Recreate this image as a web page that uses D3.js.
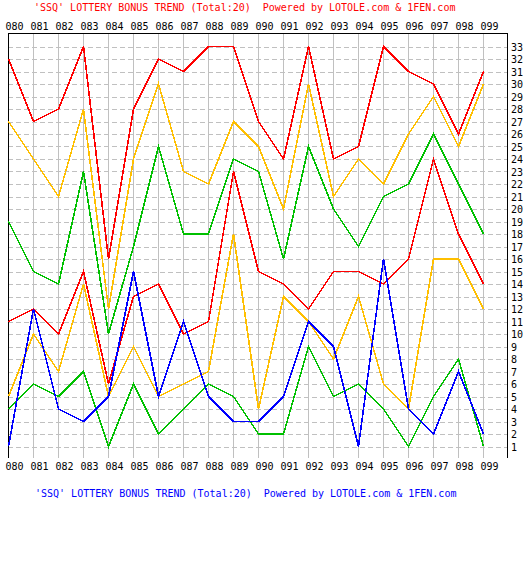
<!DOCTYPE html>
<html>
<head>
<meta charset="utf-8">
<script src="https://cdn.jsdelivr.net/npm/d3@7"></script>
<style>
  html, body { margin: 0; padding: 0; background: #fff; }
  svg { display: block; }
  text { font-family: "DejaVu Sans Mono", "Liberation Mono", monospace; font-size: 10px; }
</style>
</head>
<body>
<script>
const draws = ["080","081","082","083","084","085","086","087","088","089","090","091","092","093","094","095","096","097","098","099"];
const ball1 = [32,27,28,33,16,28,32,31,33,33,27,24,33,24,25,33,31,30,26,31];
const ball2 = [27,24,21,28,12,24,30,23,22,27,25,20,30,21,24,22,26,29,25,30];
const ball3 = [19,15,14,23,10,17,25,18,18,24,23,16,25,20,17,21,22,26,22,18];
const ball4 = [11,12,10,15,6,13,14,10,11,23,15,14,12,15,15,14,16,24,18,14];
const ball5 = [5,10,7,14,5,9,5,6,7,18,4,13,11,8,13,6,4,16,16,12];
const ball6 = [4,6,5,7,1,6,2,4,6,5,2,2,9,5,6,4,1,5,8,1];
const blueBall = [1,12,4,3,5,15,5,11,5,3,3,5,11,9,1,16,4,2,7,2];
const yTicks = d3.range(1, 34);
const titleText = "'SSQ' LOTTERY BONUS TREND (Total:20)  Powered by LOTOLE.com & 1FEN.com";

const series = [
  { values: ball1, color: "#ff0000" },
  { values: ball2, color: "#ffbf00" },
  { values: ball3, color: "#00c000" },
  { values: ball4, color: "#ff0000" },
  { values: ball5, color: "#ffbf00" },
  { values: ball6, color: "#00c000" },
  { values: blueBall, color: "#0000ff" }
];

const W = 523, H = 565;
const pLeft = 8, pRight = 507, pTop = 33, pBottom = 458;

const svg = d3.select("body").append("svg").attr("width", W).attr("height", H);
svg.append("rect").attr("width", W).attr("height", H).attr("fill", "#fff");

const x = d3.scalePoint().domain(draws).range([8, 483]);
const y = d3.scaleLinear().domain([0, 34]).range([459, 34]);

// titles
svg.append("text").attr("x", 34).attr("y", 11).attr("fill", "#ff0000")
  .attr("xml:space", "preserve").style("white-space", "pre").text(titleText);
svg.append("text").attr("x", 35).attr("y", 496.5).attr("fill", "#0000ff")
  .attr("xml:space", "preserve").style("white-space", "pre").text(titleText);

// horizontal dashed grid
svg.append("g").selectAll("line").data(yTicks).join("line")
  .attr("x1", pLeft).attr("x2", pRight)
  .attr("y1", d => Math.round(y(d)) + 0.5).attr("y2", d => Math.round(y(d)) + 0.5)
  .attr("stroke", "#c0c0c0").attr("stroke-width", 1)
  .attr("stroke-dasharray", "5,3").attr("shape-rendering", "crispEdges");

// vertical grid
svg.append("g").selectAll("line").data(draws).join("line")
  .attr("x1", d => x(d) + 0.5).attr("x2", d => x(d) + 0.5)
  .attr("y1", pTop).attr("y2", pBottom)
  .attr("stroke", "#c0c0c0").attr("stroke-width", 1).attr("shape-rendering", "crispEdges");

// frame
svg.append("path")
  .attr("d", `M${pLeft + 0.5},${pBottom} V${pTop + 0.5} H${pRight + 0.5} V${pBottom}`)
  .attr("fill", "none").attr("stroke", "#000").attr("stroke-width", 1.5)
  .attr("shape-rendering", "crispEdges");

// axes
const axTop = svg.append("g").attr("transform", `translate(0,${pTop})`)
  .call(d3.axisTop(x).tickSize(0).tickPadding(0));
axTop.select(".domain").remove();
axTop.selectAll("text").attr("text-anchor", "start").attr("x", -3).attr("y", -3.5).attr("dy", null)
  .attr("fill", "#000").style("font-size", "10px").style("font-family", "DejaVu Sans Mono, monospace");

const axBot = svg.append("g").attr("transform", `translate(0,${pBottom})`)
  .call(d3.axisBottom(x).tickSize(0).tickPadding(0));
axBot.select(".domain").remove();
axBot.selectAll("text").attr("text-anchor", "start").attr("x", -3).attr("y", 12).attr("dy", null)
  .attr("fill", "#000").style("font-size", "10px").style("font-family", "DejaVu Sans Mono, monospace");

const axRight = svg.append("g").attr("transform", `translate(${pRight},0)`)
  .call(d3.axisRight(y).tickValues(yTicks).tickFormat(d3.format("d")).tickSize(0).tickPadding(4));
axRight.select(".domain").remove();
axRight.selectAll("text").attr("fill", "#000").attr("dy", "0.36em")
  .style("font-size", "10px").style("font-family", "DejaVu Sans Mono, monospace");

// lines
const line = d3.line().x((d, i) => x(draws[i]) + 0.5).y(d => y(d));
svg.append("g").selectAll("path").data(series).join("path")
  .attr("d", s => line(s.values))
  .attr("fill", "none").attr("stroke", s => s.color).attr("stroke-width", 1.6)
  .attr("stroke-linejoin", "miter").attr("shape-rendering", "crispEdges");
</script>
</body>
</html>
